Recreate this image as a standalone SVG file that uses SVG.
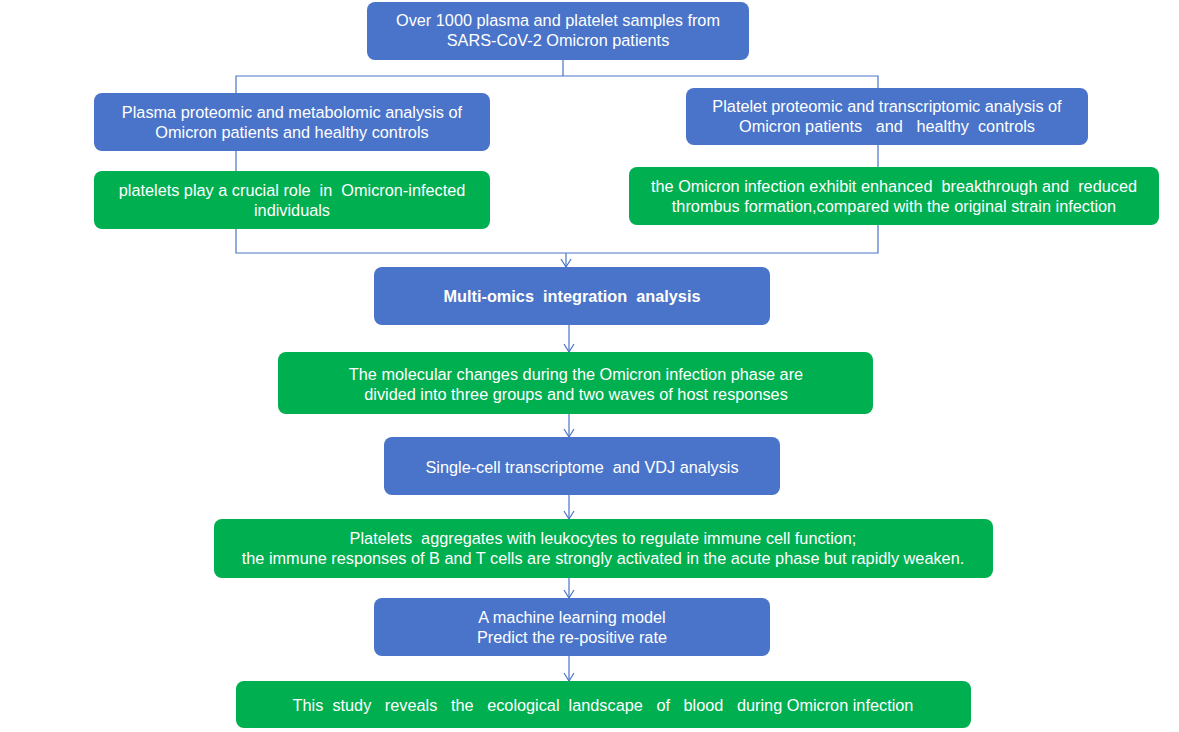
<svg xmlns="http://www.w3.org/2000/svg" width="1179" height="732" viewBox="0 0 1179 732">
<style>
.b{fill:#4A74C9}.g{fill:#00AF50}
text{font-family:"Liberation Sans",Arial,sans-serif;font-size:16.3px;fill:#fff;text-anchor:middle;white-space:pre}
.c{fill:none;stroke:#4A74C9;stroke-width:1.2}
</style>
<defs><marker id="a" markerWidth="10" markerHeight="12" refX="9" refY="6" orient="auto" markerUnits="userSpaceOnUse" viewBox="0 0 10 12"><path d="M1,1 L9,6 L1,11" fill="none" stroke="#4A74C9" stroke-width="1.2"/></marker></defs>
<rect width="1179" height="732" fill="#fff"/>
<g id="connectors">
<path class="c" d="M563,60V76M236,93V76H878V88M236,151V171M878,145V167M236,229V253H878V225"/>
<path class="c" d="M566,253V267" marker-end="url(#a)"/>
<path class="c" d="M569,325V352" marker-end="url(#a)"/>
<path class="c" d="M569,414V437" marker-end="url(#a)"/>
<path class="c" d="M569,495V519" marker-end="url(#a)"/>
<path class="c" d="M569,578V598" marker-end="url(#a)"/>
<path class="c" d="M569,656V681" marker-end="url(#a)"/>
</g>
<g id="n1"><rect class="b" x="367" y="2" width="382" height="58" rx="8"/><text x="558" y="26">Over 1000 plasma and platelet samples from</text><text x="558" y="46">SARS-CoV-2 Omicron patients</text></g>
<g id="n2"><rect class="b" x="94" y="93" width="396" height="58" rx="8"/><text x="292" y="118">Plasma proteomic and metabolomic analysis of</text><text x="292" y="138">Omicron patients and healthy controls</text></g>
<g id="n3"><rect class="g" x="94" y="171" width="396" height="58" rx="8"/><text x="292" y="196">platelets play a crucial role  in  Omicron-infected</text><text x="292" y="216">individuals</text></g>
<g id="n4"><rect class="b" x="686" y="88" width="402" height="57" rx="8"/><text x="887" y="112">Platelet proteomic and transcriptomic analysis of</text><text x="887" y="132">Omicron patients   and   healthy  controls</text></g>
<g id="n5"><rect class="g" x="629" y="167" width="530" height="58" rx="8"/><text x="894" y="192">the Omicron infection exhibit enhanced  breakthrough and  reduced</text><text x="894" y="212">thrombus formation,compared with the original strain infection</text></g>
<g id="n6"><rect class="b" x="374" y="267" width="396" height="58" rx="8"/><text x="572" y="302" font-weight="bold">Multi-omics  integration  analysis</text></g>
<g id="n7"><rect class="g" x="278" y="352" width="595" height="62" rx="8"/><text x="576" y="380">The molecular changes during the Omicron infection phase are</text><text x="576" y="400">divided into three groups and two waves of host responses</text></g>
<g id="n8"><rect class="b" x="384" y="437" width="396" height="58" rx="8"/><text x="582" y="473">Single-cell transcriptome  and VDJ analysis</text></g>
<g id="n9"><rect class="g" x="214" y="519" width="779" height="59" rx="8"/><text x="603" y="544">Platelets  aggregates with leukocytes to regulate immune cell function;</text><text x="603" y="564">the immune responses of B and T cells are strongly activated in the acute phase but rapidly weaken.</text></g>
<g id="n10"><rect class="b" x="374" y="598" width="396" height="58" rx="8"/><text x="572" y="623">A machine learning model</text><text x="572" y="643">Predict the re-positive rate</text></g>
<g id="n11"><rect class="g" x="236" y="681" width="735" height="47" rx="8"/><text x="603" y="711">This  study   reveals   the   ecological  landscape   of   blood   during Omicron infection</text></g>
</svg>
